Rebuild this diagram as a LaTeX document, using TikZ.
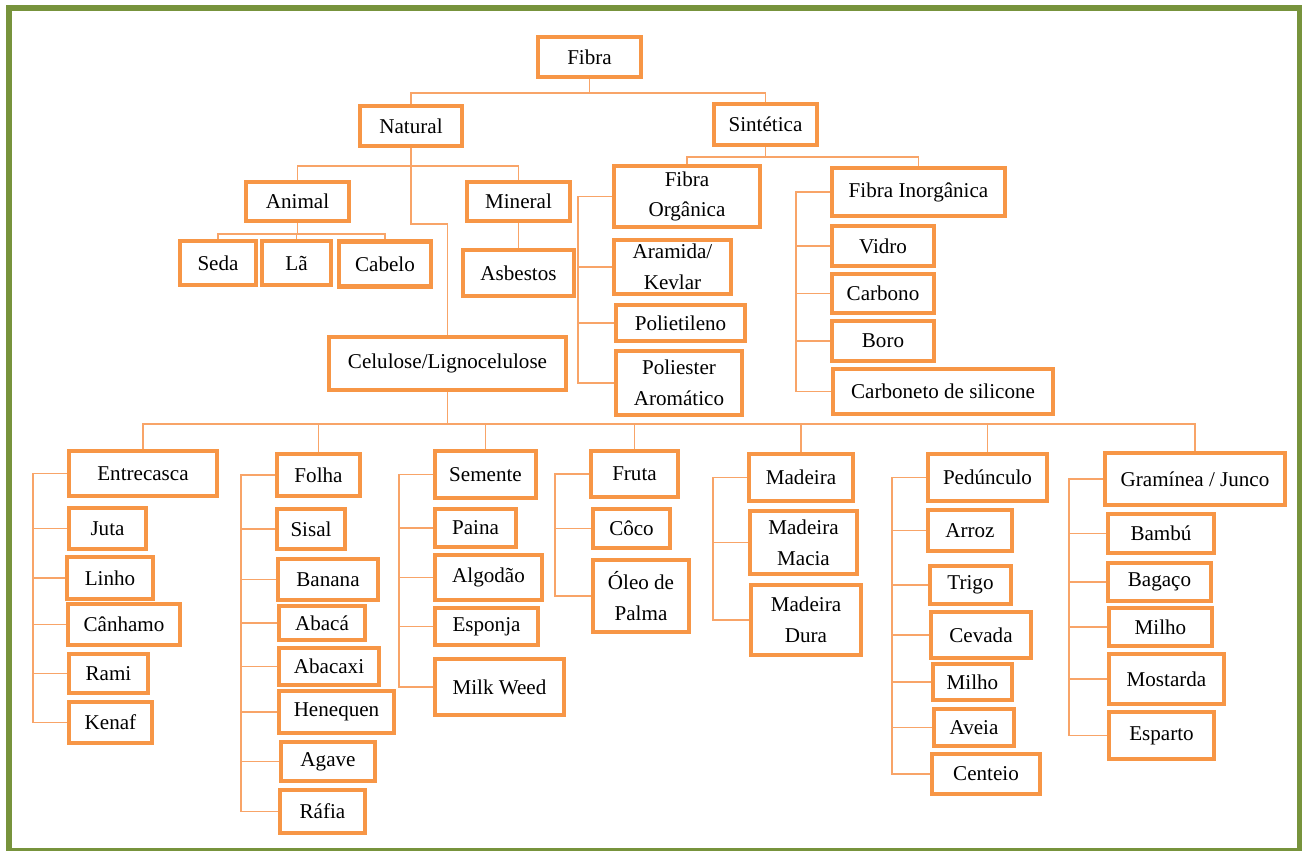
\documentclass[tikz,border=0pt]{standalone}
\usepackage{fontspec}
\setmainfont{Liberation Serif}
\usetikzlibrary{positioning, backgrounds}
\definecolor{boxorange}{HTML}{F79646}
\definecolor{lineorange}{HTML}{F8A468}
\definecolor{framegreen}{HTML}{77933C}
\def\px{0.02cm}
\def\brk{34}
\begin{document}
\begin{tikzpicture}[
    x=\px, y=-\px,
    every node/.style={font=\fontsize{12}{17.5}\selectfont, align=center, inner sep=0pt},
    fbox/.style 2 args={draw=boxorange, line width=2.3pt, fill=white,
        minimum width={(#1-4)*\px}, minimum height={(#2-4)*\px}},
    conn/.style={draw=lineorange, line width=1.1pt}
]
\useasboundingbox (0,0) rectangle (1302,850);
\draw[framegreen, line width=3.4pt] (9,8) rectangle (1299.5,851);

% top levels
\node[fbox={107}{44}] (fibra) at (589.5,57) {Fibra};
\node[fbox={106}{44}] (natural) at (411,126) {Natural};
\node[fbox={107}{45}] (sintetica) at (765.5,124.5) {Sintética};

% natural
\node[fbox={107}{43}] (animal) at (297.5,201.5) {Animal};
\node[fbox={80}{48}] (seda) at (218,263) {Seda};
\node[fbox={73}{48}] (la) at (296.5,263) {Lã};
\node[fbox={96}{49}] (cabelo) at (385,264) {Cabelo};
\node[fbox={107}{43}] (mineral) at (518.5,201.5) {Mineral};
\node[fbox={115}{50}] (asbestos) at (518.5,273) {Asbestos};
\node[fbox={241}{57}] (celulose) at (447.5,363.5) {Celulose/Lignocelulose};

% sintetica
\node[fbox={150}{65}] (forg) at (687,196.5) {Fibra\\Orgânica};
\node[fbox={121}{58}] (aramida) at (672.5,267) {Aramida/\\Kevlar};
\node[fbox={133}{40}] (polietileno) at (680.5,323) {Polietileno};
\node[fbox={130}{68}] (poliester) at (679,383) {Poliester\\Aromático};
\node[fbox={177}{52}] (finorg) at (918.5,192) {Fibra Inorgânica};
\node[fbox={106}{44}] (vidro) at (883,246) {Vidro};
\node[fbox={106}{43}] (carbono) at (883,293.5) {Carbono};
\node[fbox={106}{44}] (boro) at (883,341) {Boro};
\node[fbox={224}{49}] (carboneto) at (943,391.5) {Carboneto de silicone};

% celulose groups
\node[fbox={152}{49}] (entrecasca) at (143,473.5) {Entrecasca};
\node[fbox={81}{45}] (juta) at (107.5,528.5) {Juta};
\node[fbox={90}{46}] (linho) at (110,578) {Linho};
\node[fbox={116}{45}] (canhamo) at (124,624.5) {Cânhamo};
\node[fbox={83}{43}] (rami) at (108.5,673.5) {Rami};
\node[fbox={87}{45}] (kenaf) at (110.5,722.5) {Kenaf};

\node[fbox={87}{46}] (folha) at (318.5,475) {Folha};
\node[fbox={72}{44}] (sisal) at (311,529) {Sisal};
\node[fbox={104}{45}] (banana) at (328,579.5) {Banana};
\node[fbox={90}{38}] (abaca) at (322,623) {Abacá};
\node[fbox={104}{41}] (abacaxi) at (329,666.5) {Abacaxi};
\node[fbox={119}{46}] (henequen) at (336.5,712) {Henequen};
\node[fbox={98}{43}] (agave) at (328,761.5) {Agave};
\node[fbox={89}{47}] (rafia) at (322.5,811.5) {Ráfia};

\node[fbox={105}{51}] (semente) at (485.5,474.5) {Semente};
\node[fbox={85}{42}] (paina) at (475.5,528) {Paina};
\node[fbox={111}{49}] (algodao) at (488.5,577.5) {Algodão};
\node[fbox={107}{41}] (esponja) at (486.5,626.5) {Esponja};
\node[fbox={133}{60}] (milkweed) at (499.5,687) {Milk Weed};

\node[fbox={91}{50}] (fruta) at (634.5,474) {Fruta};
\node[fbox={81}{43}] (coco) at (631.5,528.5) {Côco};
\node[fbox={100}{76}] (oleo) at (641,596) {Óleo de\\Palma};

\node[fbox={108}{51}] (madeira) at (801,477.5) {Madeira};
\node[fbox={111}{67}] (macia) at (803.5,542.5) {Madeira\\Macia};
\node[fbox={114}{74}] (dura) at (806,620) {Madeira\\Dura};

\node[fbox={123}{51}] (pedunculo) at (987.5,477.5) {Pedúnculo};
\node[fbox={88}{45}] (arroz) at (970,530.5) {Arroz};
\node[fbox={85}{42}] (trigo) at (970.5,585) {Trigo};
\node[fbox={104}{50}] (cevada) at (981,635) {Cevada};
\node[fbox={83}{40}] (milhoA) at (972.5,682) {Milho};
\node[fbox={84}{41}] (aveia) at (974,727.5) {Aveia};
\node[fbox={112}{44}] (centeio) at (986,774) {Centeio};

\node[fbox={184}{56}] (graminea) at (1195,479) {Gramínea / Junco};
\node[fbox={110}{43}] (bambu) at (1161,533.5) {Bambú};
\node[fbox={107}{42}] (bagaco) at (1159.5,582) {Bagaço};
\node[fbox={107}{42}] (milhoB) at (1160.5,627) {Milho};
\node[fbox={119}{54}] (mostarda) at (1166.5,679) {Mostarda};
\node[fbox={109}{51}] (esparto) at (1161.5,735.5) {Esparto};

% connectors
\begin{scope}[on background layer]
\foreach \c in {natural,sintetica}
    \draw[conn] (fibra.south) -- ++(0,14) -| (\c.north);
\foreach \c in {animal,mineral}
    \draw[conn] (natural.south) -- ++(0,18) -| (\c.north);
\draw[conn] (natural.south) -- ++(0,76) -| (celulose.north);
\foreach \c in {seda,la,cabelo}
    \draw[conn] (animal.south) -- ++(0,11) -| (\c.north);
\draw[conn] (mineral) -- (asbestos);
\foreach \c in {forg,finorg}
    \draw[conn] (sintetica.south) -- ++(0,10) -| (\c.north);
\foreach \c in {aramida,polietileno,poliester}
    \draw[conn] (forg.west) -- ++(-\brk,0) |- (\c.west);
\foreach \c in {vidro,carbono,boro,carboneto}
    \draw[conn] (finorg.west) -- ++(-\brk,0) |- (\c.west);
\foreach \c in {entrecasca,folha,semente,fruta,madeira,pedunculo,graminea}
    \draw[conn] (celulose.south) -- ++(0,32) -| (\c.north);
\foreach \c in {juta,linho,canhamo,rami,kenaf}
    \draw[conn] (entrecasca.west) -- ++(-\brk,0) |- (\c.west);
\foreach \c in {sisal,banana,abaca,abacaxi,henequen,agave,rafia}
    \draw[conn] (folha.west) -- ++(-\brk,0) |- (\c.west);
\foreach \c in {paina,algodao,esponja,milkweed}
    \draw[conn] (semente.west) -- ++(-\brk,0) |- (\c.west);
\foreach \c in {coco,oleo}
    \draw[conn] (fruta.west) -- ++(-\brk,0) |- (\c.west);
\foreach \c in {macia,dura}
    \draw[conn] (madeira.west) -- ++(-\brk,0) |- (\c.west);
\foreach \c in {arroz,trigo,cevada,milhoA,aveia,centeio}
    \draw[conn] (pedunculo.west) -- ++(-\brk,0) |- (\c.west);
\foreach \c in {bambu,bagaco,milhoB,mostarda,esparto}
    \draw[conn] (graminea.west) -- ++(-\brk,0) |- (\c.west);
\end{scope}
\end{tikzpicture}
\end{document}
